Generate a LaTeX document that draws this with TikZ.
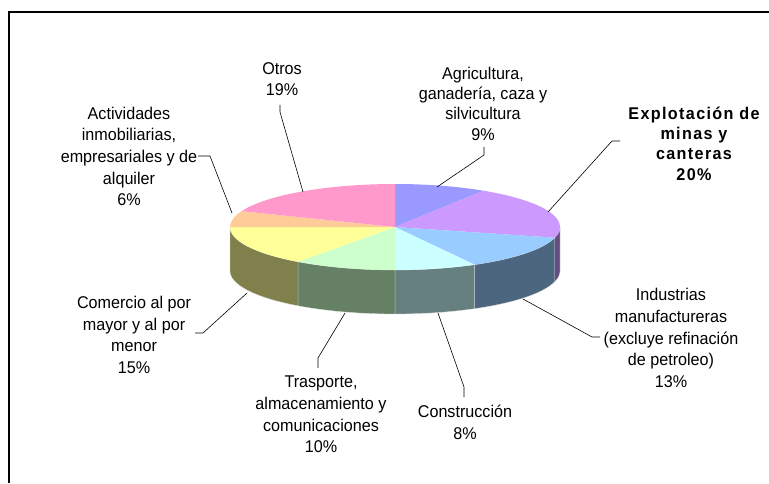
\documentclass[tikz,border=0pt]{standalone}
\usepackage{fontspec}
\setmainfont{Liberation Sans}[FakeStretch=0.95]
\newfontfamily\spacedfont{Liberation Sans}[FakeStretch=0.95,LetterSpace=8]
\usetikzlibrary{calc}
\definecolor{cAgri}{HTML}{9999FF}
\definecolor{cExpl}{HTML}{CC99FF}
\definecolor{cInd}{HTML}{99CCFF}
\definecolor{cCons}{HTML}{CCFFFF}
\definecolor{cTras}{HTML}{CCFFCC}
\definecolor{cCom}{HTML}{FFFF99}
\definecolor{cAct}{HTML}{FFCC99}
\definecolor{cOtr}{HTML}{FF99CC}
\begin{document}
\begin{tikzpicture}[x=1pt,y=1pt,
  lbl/.style={align=center, inner sep=0pt, font=\fontsize{17}{21.7}\selectfont},
  lblb/.style={align=center, inner sep=0pt, font=\fontsize{17}{20.3}\selectfont},
  lead/.style={black, line width=0.6pt},
  frame/.style={black, line width=2pt},
  sep/.style={draw=white!75!gray, line width=0.3pt},
  ell/.style={x radius=165pt, y radius=43pt}]
\useasboundingbox (0,0) rectangle (769,483);
\fill[white] (0,0) rectangle (769,483);
% frame
\draw[frame] (9,0) -- (9,471) -- (769,471);
% pie
\coordinate (C) at (395,256);
% visible sides
\foreach \a/\b/\c in {0/-14.4/cExpl, -14.4/-61.2/cInd, -61.2/-90/cCons, -90/-126/cTras, -126/-180/cCom}{
  \filldraw[fill=\c!50!black, sep] ($(C)+(\a:165pt and 43pt)$) arc[ell, start angle=\a, end angle=\b]
     -- ++(0,-44) arc[ell, start angle=\b, end angle=\a] -- cycle;
}
% top face
\foreach \a/\b/\c in {90/57.6/cAgri, 57.6/-14.4/cExpl, -14.4/-61.2/cInd, -61.2/-90/cCons, -90/-126/cTras, -126/-180/cCom, -180/-201.6/cAct, -201.6/-270/cOtr}{
  \fill[\c] (C) -- ($(C)+(\a:165pt and 43pt)$) arc[ell, start angle=\a, end angle=\b] -- cycle;
}
% labels
\node[lbl] (otros) at (282,404) {Otros\\19\%};
\node[lbl] (activ) at (129,326.5) {Actividades\\inmobiliarias,\\empresariales y de\\alquiler\\6\%};
\node[lblb] (agri) at (483,379.5) {Agricultura,\\ganadería, caza y\\silvicultura\\9\%};
\node[lblb, font=\fontsize{17}{20.3}\spacedfont\bfseries] (expl) at (694,339.5) {Explotación de\\minas y\\canteras\\20\%};
\node[lbl] (ind) at (671,145) {Industrias\\manufactureras\\(excluye refinación\\de petroleo)\\13\%};
\node[lbl] (cons) at (465,60.5) {Construcción\\8\%};
\node[lbl] (tras) at (321,68.5) {Trasporte,\\almacenamiento y\\comunicaciones\\10\%};
\node[lbl] (com) at (134,148) {Comercio al por\\mayor y al por\\menor\\15\%};
% leader points
\coordinate (o1) at (280,378); \coordinate (o2) at (280,371); \coordinate (o3) at (303,291);
\coordinate (a1) at (198,327); \coordinate (a2) at (210,327); \coordinate (a3) at (232,270);
\coordinate (g1) at (484,336); \coordinate (g2) at (484,328); \coordinate (g3) at (437,296);
\coordinate (e1) at (620,342); \coordinate (e2) at (612,342); \coordinate (e3) at (548,271);
\coordinate (i1) at (600,146); \coordinate (i2) at (592,146); \coordinate (i3) at (523,184);
\coordinate (c1) at (464,86);  \coordinate (c2) at (464,96);  \coordinate (c3) at (438,170);
\coordinate (t1) at (318,115); \coordinate (t2) at (318,125); \coordinate (t3) at (345,170);
\coordinate (m1) at (195,150); \coordinate (m2) at (203,150); \coordinate (m3) at (247,190);
\draw[lead] (o1) -- (o2) -- (o3);
\draw[lead] (a1) -- (a2) -- (a3);
\draw[lead] (g1) -- (g2) -- (g3);
\draw[lead] (e1) -- (e2) -- (e3);
\draw[lead] (i1) -- (i2) -- (i3);
\draw[lead] (c1) -- (c2) -- (c3);
\draw[lead] (t1) -- (t2) -- (t3);
\draw[lead] (m1) -- (m2) -- (m3);
\end{tikzpicture}
\end{document}
